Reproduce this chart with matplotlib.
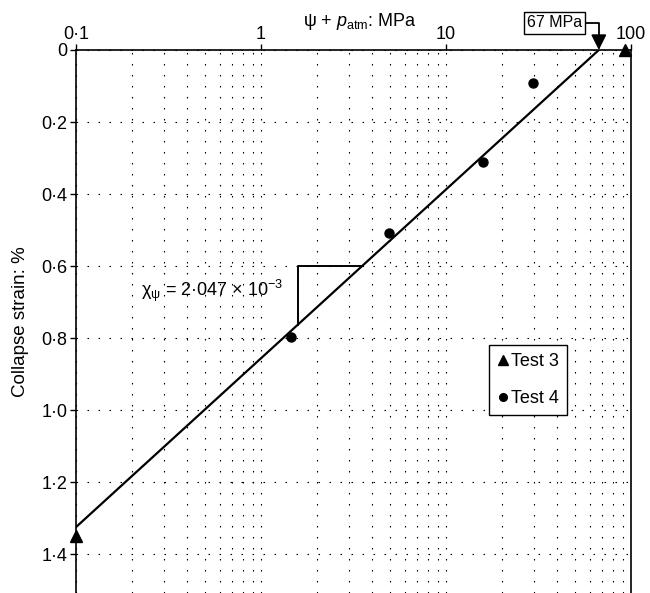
import numpy as np
import matplotlib
matplotlib.use("Agg")
import matplotlib.pyplot as plt

plt.rcParams['font.family'] = ['Liberation Sans', 'DejaVu Sans']
plt.rcParams['mathtext.fontset'] = 'custom'
plt.rcParams['mathtext.rm'] = 'Liberation Sans'
plt.rcParams['mathtext.it'] = 'Liberation Sans:italic'
plt.rcParams['mathtext.bf'] = 'Liberation Sans:bold'

# ---- data ----
test3_x = [93.0, 0.1]
test3_y = [0.0, 1.35]
test4_x = [29.5, 15.9, 4.9, 1.45]
test4_y = [0.092, 0.311, 0.508, 0.797]
fit_x = [0.1, 67.0]
fit_y = [1.325, 0.0]
ytick_vals = [0, 0.2, 0.4, 0.6, 0.8, 1.0, 1.2, 1.4]
ytick_labels = ['0', '0·2', '0·4', '0·6', '0·8', '1·0', '1·2', '1·4']
xtick_vals = [0.1, 1, 10, 100]
xtick_labels = ['0·1', '1', '10', '100']
slope_x0 = 1.585
slope_ytop = 0.6
slope_text = r'$\mathrm{\chi}_{\mathrm{\psi}}$ = 2·047 × 10$^{\mathrm{−3}}$'
arrow_label = '67 MPa'

FS = 13

fig = plt.figure(figsize=(6.5, 5.93), dpi=100)
ax = fig.add_axes([76/650, 0.0, (631-76)/650, (593-50)/593])
ax.set_xscale('log')
ax.set_xlim(0.1, 100)
ax.set_ylim(1.508, 0)

# grid
ax.set_xticks(xtick_vals)
ax.set_xticklabels(xtick_labels)
ax.set_yticks(ytick_vals)
ax.set_yticklabels(ytick_labels)
ax.xaxis.set_minor_locator(matplotlib.ticker.LogLocator(base=10, subs=np.arange(2, 10)))
ax.xaxis.set_minor_formatter(matplotlib.ticker.NullFormatter())
ls = (0, (1.4, 8.5))
ax.grid(True, which='major', axis='both', color='black', linestyle=ls, linewidth=0.8)
ax.grid(True, which='minor', axis='x', color='black', linestyle=ls, linewidth=0.8)

ax.xaxis.set_ticks_position('top')
ax.xaxis.set_label_position('top')
ax.tick_params(axis='x', which='major', direction='out', length=4, width=1, pad=1, labelsize=FS)
ax.tick_params(axis='x', which='minor', length=0)
ax.tick_params(axis='y', which='major', direction='out', length=4, width=1, pad=2, labelsize=FS)
for s in ['top', 'left', 'right']:
    ax.spines[s].set_linewidth(1.2)
ax.spines['bottom'].set_visible(False)

ax.set_xlabel(r'ψ + $p_{\mathrm{atm}}$: MPa', fontsize=FS, labelpad=0)
ax.xaxis.set_label_coords(0.512, 1.0 + 18/540)
ax.xaxis.label.set_verticalalignment('bottom')
ax.set_ylabel('Collapse strain: %', fontsize=13.5, labelpad=9)

# fit line
ax.plot(fit_x, fit_y, color='black', lw=1.6, zorder=3)

# slope triangle
lx = np.log10(fit_x)
def line_y(x):
    return np.interp(np.log10(x), lx, fit_y)
def line_x(y):
    return 10 ** np.interp(y, fit_y[::-1], lx[::-1])
y_bot = line_y(slope_x0)
x_right = line_x(slope_ytop)
ax.plot([slope_x0, slope_x0, x_right], [y_bot, slope_ytop, slope_ytop], color='black', lw=1.4, zorder=3)
ax.text(0.543, 0.668, slope_text, fontsize=FS, ha='center', va='center', zorder=2)

# data points
ax.plot(test3_x, test3_y, linestyle='none', marker='^', color='black', markersize=9,
        clip_on=False, zorder=4, label='Test 3')
ax.plot(test4_x, test4_y, linestyle='none', marker='o', color='black', markersize=6.5,
        clip_on=False, zorder=4, label='Test 4')

leg = ax.legend(loc='upper left', bbox_to_anchor=(0.744, 0.457), fontsize=FS,
                handlelength=0.7, handletextpad=0.05, borderpad=0.45, labelspacing=1.1,
                fancybox=False, framealpha=1, edgecolor='black', borderaxespad=0,
                markerscale=0.85)
leg.get_frame().set_linewidth(1.0)

# 67 MPa annotation
ax.annotate(arrow_label, xy=(fit_x[1], 0.0), xycoords='data',
            xytext=(-32, 19.5), textcoords='offset points', fontsize=11.5,
            ha='center', va='center',
            bbox=dict(boxstyle='square,pad=0.2', facecolor='white', edgecolor='black', linewidth=1.0),
            arrowprops=dict(arrowstyle='-|>,head_length=0.8,head_width=0.4', color='black', lw=1.3,
                            connectionstyle='angle,angleA=0,angleB=90,rad=0',
                            shrinkA=0, shrinkB=0),
            annotation_clip=False, zorder=5)

fig.savefig('out.png', dpi=100)
